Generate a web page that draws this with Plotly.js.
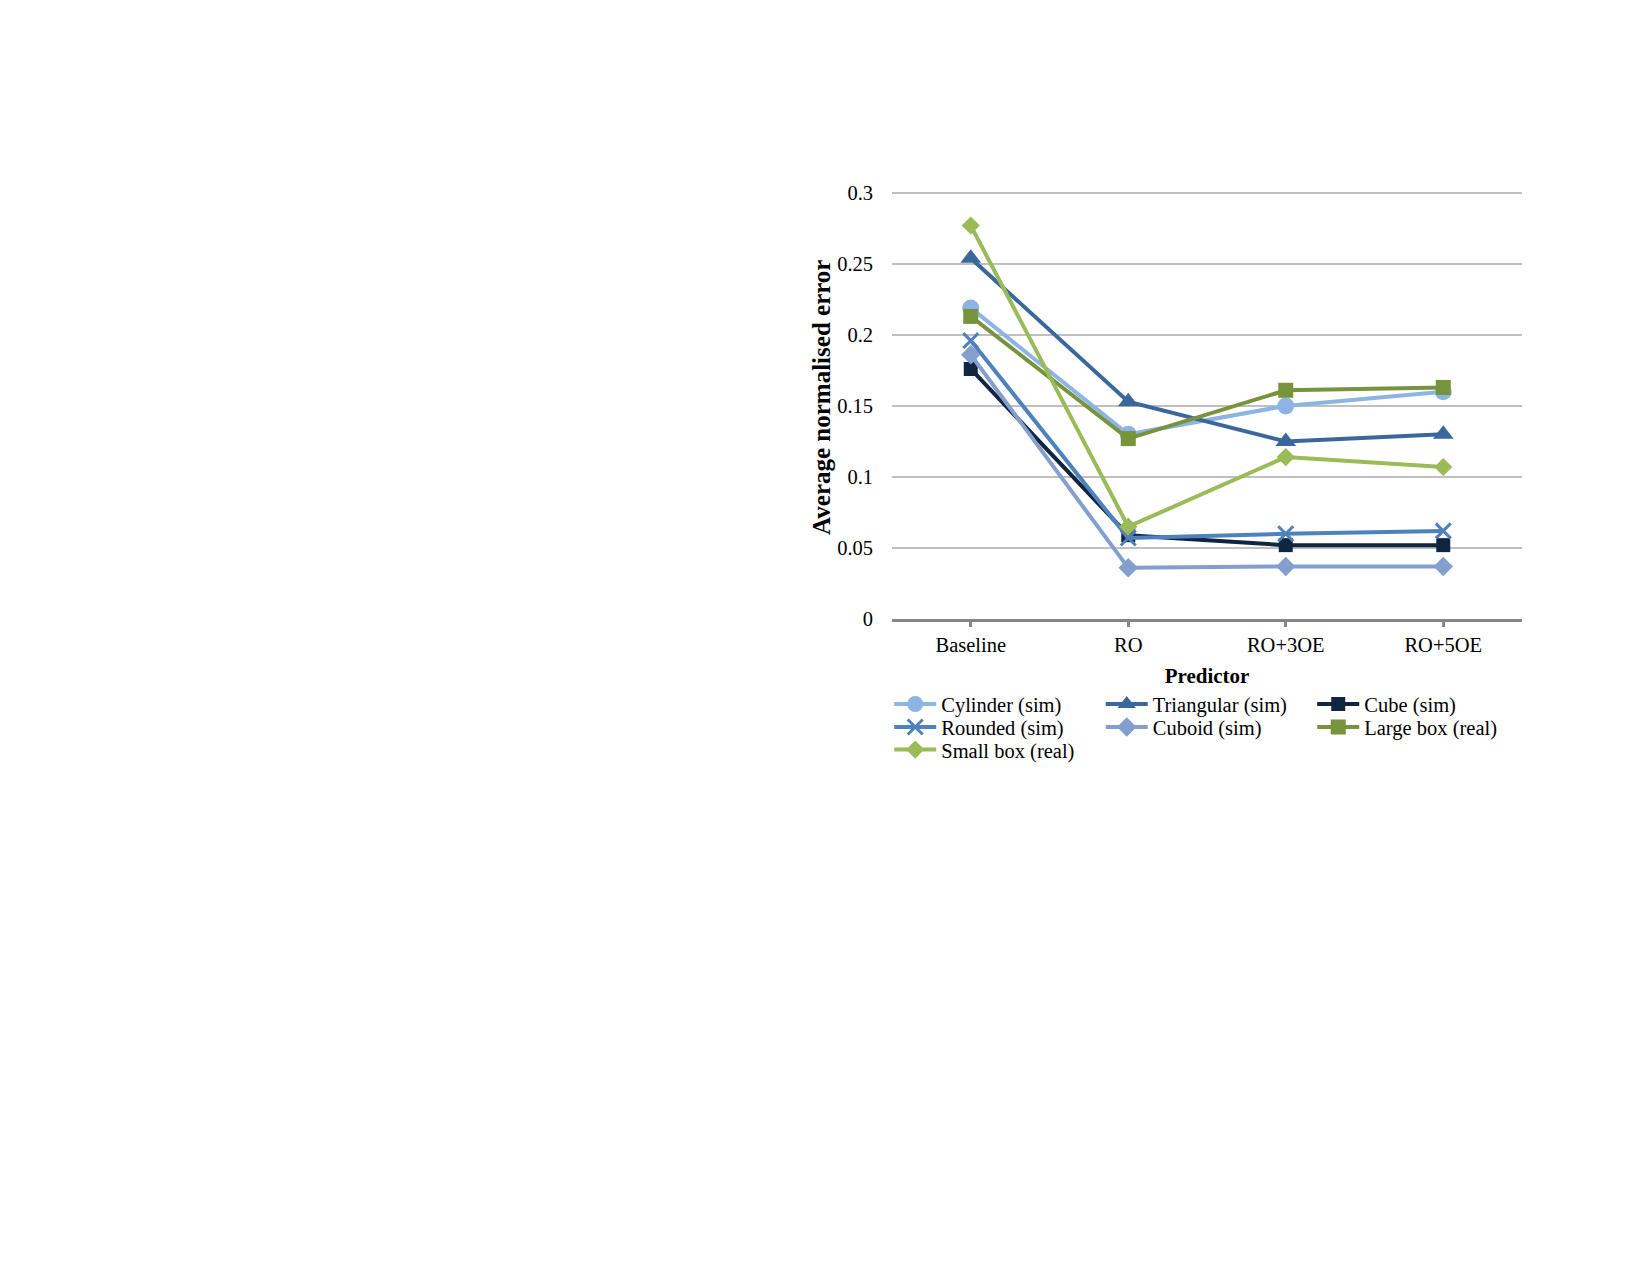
<!DOCTYPE html>
<html>
<head>
<meta charset="utf-8">
<script src="https://cdn.plot.ly/plotly-3.0.1.min.js"></script>
<style>html,body{margin:0;padding:0;background:#fff;}#chart{width:1650px;height:1275px;}</style>
</head>
<body>
<div id="chart"></div>
<script>
const categories = ["Baseline", "RO", "RO+3OE", "RO+5OE"];
const seriesNames = ["Cylinder (sim)", "Triangular (sim)", "Cube (sim)", "Rounded (sim)", "Cuboid (sim)", "Large box (real)", "Small box (real)"];
const cylinder   = [0.219, 0.130, 0.150, 0.160];
const triangular = [0.254, 0.153, 0.125, 0.130];
const cube       = [0.176, 0.059, 0.052, 0.052];
const rounded    = [0.196, 0.057, 0.060, 0.062];
const cuboid     = [0.186, 0.036, 0.037, 0.037];
const largeBox   = [0.213, 0.127, 0.161, 0.163];
const smallBox   = [0.277, 0.065, 0.114, 0.107];
const yTickVals  = [0, 0.05, 0.1, 0.15, 0.2, 0.25, 0.3];
const yTickText  = ["0", "0.05", "0.1", "0.15", "0.2", "0.25", "0.3"];
const xTitle = "Predictor";
const yTitle = "Average normalised error";

const styles = [
  {color: "#8DB4E2", symbol: "circle", size: 17, legend: "legend"},
  {color: "#3A679C", symbol: "triangle-up", size: 18, legend: "legend"},
  {color: "#10253F", symbol: "square", size: 14, legend: "legend"},
  {color: "#4F81BD", symbol: "x-thin-open", size: 15, legend: "legend2"},
  {color: "#849FCE", symbol: "diamond", size: 15, legend: "legend2"},
  {color: "#77933C", symbol: "square", size: 15, legend: "legend2"},
  {color: "#9BBB59", symbol: "diamond", size: 14, legend: "legend3"}
];
const values = [cylinder, triangular, cube, rounded, cuboid, largeBox, smallBox];

const traces = values.map((v, i) => ({
  type: "scatter",
  mode: "lines+markers",
  x: categories,
  y: v,
  name: seriesNames[i],
  legend: styles[i].legend,
  line: {color: styles[i].color, width: 4},
  marker: {color: styles[i].color, symbol: styles[i].symbol, size: styles[i].size,
           line: {color: styles[i].color, width: styles[i].symbol === "x-thin-open" ? 3 : 0}}
}));

const font = {family: "Liberation Serif, Times New Roman, serif", size: 20.5, color: "#000"};
const legendBase = {
  orientation: "h", xanchor: "left", yanchor: "top", x: -0.0044,
  font: {family: font.family, size: 20.5, color: "#000"},
  itemwidth: 42,
  entrywidth: 154.5, entrywidthmode: "pixels", tracegroupgap: 0,
  bgcolor: "rgba(0,0,0,0)", borderwidth: 0, itemclick: false
};

const plotTop = 190, plotBottom = 619;
const legendY = (py) => (plotBottom - py) / (plotBottom - plotTop);

const layout = {
  width: 1650, height: 1275,
  margin: {l: 892, r: 128, t: plotTop, b: 1275 - plotBottom, pad: 0},
  paper_bgcolor: "#fff", plot_bgcolor: "#fff",
  font: font,
  showlegend: true,
  xaxis: {
    type: "category", range: [-0.5, 3.5],
    showgrid: false, zeroline: false,
    showline: true, linecolor: "#868686", linewidth: 3,
    ticks: "outside", ticklen: 5, tickwidth: 3, tickcolor: "#868686",
    ticklabelstandoff: 0,
    tickfont: {family: font.family, size: 20.5, color: "#000"},
    title: {text: "<b>" + xTitle + "</b>", font: {family: font.family, size: 21, color: "#000"}, standoff: 14}
  },
  yaxis: {
    range: [0, 0.302], tickvals: yTickVals, ticktext: yTickText,
    showgrid: true, gridcolor: "#C0C0C0", gridwidth: 2.5,
    zeroline: false, showline: false, ticks: "",
    ticklabelstandoff: 18,
    tickfont: {family: font.family, size: 20.5, color: "#000"},
    title: {text: ""}
  },
  annotations: [{
    text: "<b>" + yTitle + "</b>", textangle: -90,
    xref: "paper", yref: "paper", x: (820.7 - 892) / 630, y: legendY(397.2),
    xanchor: "center", yanchor: "middle", showarrow: false,
    font: {family: font.family, size: 25, color: "#000"}
  }],
  legend:  Object.assign({}, legendBase, {y: legendY(619 + 0.153 * 426)}),
  legend2: Object.assign({}, legendBase, {y: legendY(619 + 0.207 * 426)}),
  legend3: Object.assign({}, legendBase, {y: legendY(619 + 0.260 * 426)})
};

Plotly.newPlot("chart", traces, layout, {displayModeBar: false, staticPlot: true});
</script>
</body>
</html>
